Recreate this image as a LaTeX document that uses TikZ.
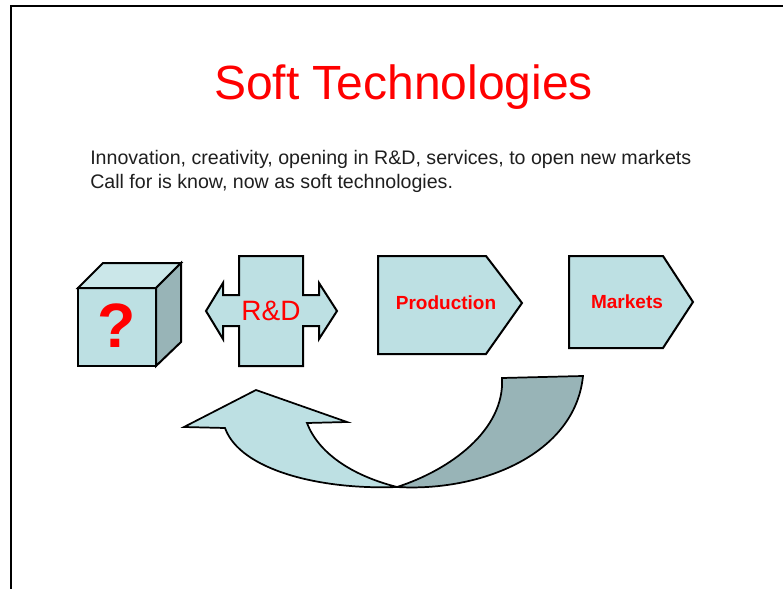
\documentclass[tikz,border=0pt]{standalone}
\usepackage{fontspec}
\setmainfont{Liberation Sans}
\definecolor{lightfill}{RGB}{189,224,227}
\definecolor{topfill}{RGB}{203,231,233}
\definecolor{darkfill}{RGB}{152,180,183}
\definecolor{titlered}{RGB}{255,0,0}
\begin{document}
\begin{tikzpicture}[x=0.75pt,y=-0.75pt,
  shapeline/.style={draw=black,line width=1.5pt,line join=miter},
  lightshape/.style={shapeline,fill=lightfill},
  darkshape/.style={shapeline,fill=darkfill},
  topshape/.style={shapeline,fill=topfill},
  redlabel/.style={text=titlered,inner sep=0pt},
  bodytext/.style={inner sep=0pt,font=\fontsize{14.7pt}{17.6pt}\selectfont,text=black!88}]
\useasboundingbox (0,0) rectangle (783,589);
\fill[white] (0,0) rectangle (783,589);
% frame
\draw[line width=2pt] (11,600) -- (11,6) -- (800,6);
% title
\node[redlabel,anchor=base,font=\fontsize{36pt}{40pt}\selectfont] (title) at (403.5,99) {Soft Technologies};
% body text
\node[bodytext,anchor=base west] (line1) at (90,164) {Innovation, creativity, opening in R\&D, services, to open new markets};
\node[bodytext,anchor=base west] (line2) at (90,188) {Call for is know, now as soft technologies.};
% cube
\draw[lightshape] (78,288) rectangle (156,366);
\draw[topshape] (78,288) -- (103,263) -- (181,263) -- (156,288) -- cycle;
\draw[darkshape] (156,288) -- (181,263) -- (181,342) -- (156,366) -- cycle;
\node[redlabel,font=\bfseries\fontsize{47pt}{50pt}\selectfont] (question) at (117,326) {?};
% R&D
\draw[lightshape] (239,256) -- (303,256) -- (303,295) -- (319,295) -- (319,283) -- (337,311)
  -- (319,339) -- (319,326) -- (303,326) -- (303,366) -- (239,366) -- (239,326)
  -- (223,326) -- (223,339) -- (206,311) -- (223,283) -- (223,295) -- (239,295) -- cycle;
\node[redlabel,font=\fontsize{21pt}{24pt}\selectfont] (rd) at (271,311) {R\&D};
% Production
\draw[lightshape] (378,256) -- (486,256) -- (522,303) -- (486,354) -- (378,354) -- cycle;
\node[redlabel,font=\bfseries\fontsize{14.25pt}{16pt}\selectfont] (production) at (446,303) {Production};
% Markets
\draw[lightshape] (569,256) -- (663,256) -- (693,302) -- (663,348) -- (569,348) -- cycle;
\node[redlabel,font=\bfseries\fontsize{14.25pt}{16pt}\selectfont] (markets) at (627,302) {Markets};
% curved ribbon arrow
\coordinate (cross) at (397,487);
\draw[darkshape,line width=1.3pt] (cross) .. controls (480,492) and (575,455) .. (583,376)
  -- (502,378) .. controls (505,430) and (450,470) .. (cross) -- cycle;
\draw[lightshape,line width=1.3pt] (184,427) -- (256,390) -- (347,422) -- (307,423)
  .. controls (318,452) and (350,475) .. (cross)
  .. controls (320,490) and (240,470) .. (225,428) -- cycle;
\end{tikzpicture}
\end{document}
